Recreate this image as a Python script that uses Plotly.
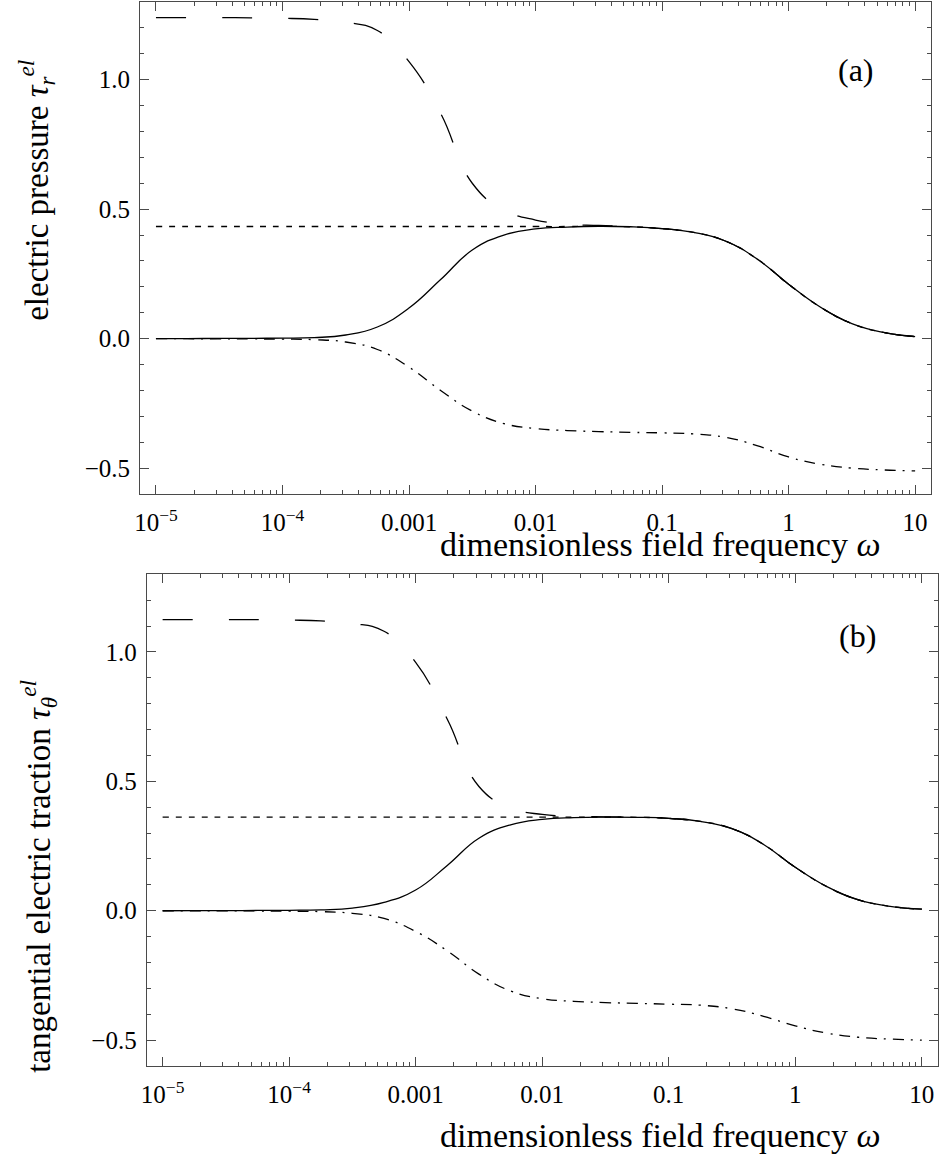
import plotly.graph_objects as go

# dimensionless field frequency, quarter-decade samples (shared by both panels)
omega = [1e-5, 1.778e-5, 3.162e-5, 5.623e-5,
         1e-4, 1.778e-4, 3.162e-4, 5.623e-4,
         1e-3, 1.778e-3, 3.162e-3, 5.623e-3,
         1e-2, 1.778e-2, 3.162e-2, 5.623e-2,
         0.1, 0.1778, 0.3162, 0.5623,
         1.0, 1.778, 3.162, 5.623, 10.0]

# (a) electric pressure
pr_total = [0.0, 0.0003, 0.0007, 0.0012,
            0.002, 0.004, 0.014, 0.045,
            0.118, 0.228, 0.342, 0.4,
            0.424, 0.431, 0.434, 0.432,
            0.425, 0.41, 0.377, 0.308,
            0.21, 0.122, 0.058, 0.024, 0.008]
pr_long = [1.24, 1.24, 1.24, 1.239,
           1.237, 1.233, 1.222, 1.19,
           1.07, 0.87, 0.6, 0.497,
           0.458, 0.442, 0.437, 0.432,
           0.425, 0.41, 0.377, 0.308,
           0.21, 0.122, 0.058, 0.024, 0.008]
pr_short = [0.433, 0.433, 0.433, 0.433,
            0.433, 0.433, 0.433, 0.433,
            0.433, 0.433, 0.433, 0.433,
            0.433, 0.433, 0.434, 0.432,
            0.425, 0.41, 0.377, 0.308,
            0.21, 0.122, 0.058, 0.024, 0.008]
pr_dashdot = [0.0, -0.0003, -0.0007, -0.0012,
              -0.002, -0.004, -0.013, -0.042,
              -0.11, -0.2, -0.28, -0.328,
              -0.347, -0.355, -0.359, -0.362,
              -0.364, -0.368, -0.381, -0.413,
              -0.457, -0.485, -0.5, -0.507, -0.511]

# (b) tangential electric traction
tg_total = [0.0, 0.0002, 0.0005, 0.001,
            0.0017, 0.0035, 0.01, 0.032,
            0.08, 0.175, 0.28, 0.332,
            0.353, 0.36, 0.362, 0.361,
            0.357, 0.345, 0.317, 0.256,
            0.168, 0.093, 0.042, 0.017, 0.006]
tg_long = [1.125, 1.125, 1.125, 1.125,
           1.123, 1.12, 1.11, 1.08,
           0.96, 0.74, 0.48, 0.398,
           0.372, 0.365, 0.363, 0.361,
           0.357, 0.345, 0.317, 0.256,
           0.168, 0.093, 0.042, 0.017, 0.006]
tg_short = [0.362, 0.362, 0.362, 0.362,
            0.362, 0.362, 0.362, 0.362,
            0.362, 0.362, 0.362, 0.362,
            0.362, 0.362, 0.362, 0.361,
            0.357, 0.345, 0.317, 0.256,
            0.168, 0.093, 0.042, 0.017, 0.006]
tg_dashdot = [0.0, -0.0002, -0.0005, -0.001,
              -0.0017, -0.0035, -0.01, -0.03,
              -0.08, -0.155, -0.245, -0.31,
              -0.34, -0.35, -0.355, -0.358,
              -0.361, -0.365, -0.379, -0.408,
              -0.445, -0.473, -0.489, -0.496, -0.5]

x_tickvals = [1e-5, 1e-4, 1e-3, 1e-2, 1e-1, 1, 10]
x_ticktext = ["10<sup>−5</sup>", "10<sup>−4</sup>", "0.001", "0.01", "0.1", "1", "10"]
y_tickvals = [-0.5, 0.0, 0.5, 1.0]
y_ticktext = ["−0.5", "0.0", "0.5", "1.0"]

W, H = 940, 1158
FONT = "Liberation Serif"
FRAME = "#4a4a4a"

x_minor = [m * 10.0 ** e for e in range(-5, 2) for m in range(2, 10) if m * 10.0 ** e < 13]

styles = {
    "long": dict(dash="30px,36px"),
    "short": dict(dash="6px,7px"),
    "solid": dict(dash="solid"),
    "dashdot": dict(dash="11px,7px,2px,7px"),
}

fig = go.Figure()

panels = [
    ("x", "y", [("long", pr_long), ("short", pr_short), ("solid", pr_total), ("dashdot", pr_dashdot)]),
    ("x2", "y2", [("long", tg_long), ("short", tg_short), ("solid", tg_total), ("dashdot", tg_dashdot)]),
]
for xa, ya, curves in panels:
    for kind, vals in curves:
        fig.add_trace(go.Scatter(
            x=omega, y=vals, xaxis=xa, yaxis=ya, mode="lines",
            line=dict(color="black", width=1.3, shape="spline", smoothing=1.3, **styles[kind]),
            showlegend=False, hoverinfo="skip"))

def xaxis(domain, anchor):
    return dict(domain=domain, anchor=anchor, type="log", range=[-5.125, 1.126],
                tickmode="array", tickvals=x_tickvals, ticktext=x_ticktext,
                ticks="inside", ticklen=9, tickwidth=1, tickcolor=FRAME,
                showline=True, linecolor=FRAME, linewidth=1.2, mirror="ticks",
                showgrid=False, zeroline=False, ticklabelstandoff=6,
                tickfont=dict(family=FONT, size=25, color="black"),
                minor=dict(tickmode="array", tickvals=x_minor, ticks="inside",
                           ticklen=4, tickwidth=1, tickcolor=FRAME, showgrid=False))

def yaxis(domain, anchor):
    return dict(domain=domain, anchor=anchor, range=[-0.6, 1.3],
                tickmode="array", tickvals=y_tickvals, ticktext=y_ticktext,
                ticks="inside", ticklen=9, tickwidth=1, tickcolor=FRAME,
                showline=True, linecolor=FRAME, linewidth=1.2, mirror="ticks",
                showgrid=False, zeroline=False, ticklabelstandoff=4,
                tickfont=dict(family=FONT, size=25, color="black"),
                minor=dict(dtick=0.1, tick0=0, ticks="inside", ticklen=4,
                           tickwidth=1, tickcolor=FRAME, showgrid=False))

fig.update_layout(
    width=W, height=H,
    margin=dict(l=0, r=0, t=0, b=0),
    paper_bgcolor="white", plot_bgcolor="white",
    xaxis=xaxis([135 / W, 931 / W], "y"),
    yaxis=yaxis([1 - 494 / H, 1 - 2 / H], "x"),
    xaxis2=xaxis([141.7 / W, 937.7 / W], "y2"),
    yaxis2=yaxis([1 - 1066 / H, 1 - 574.3 / H], "x2"),
)

def paper_text(text, x, y, size, angle=0):
    fig.add_annotation(text=text, x=x / W, y=1 - y / H, xref="paper", yref="paper",
                       xanchor="center", yanchor="middle", showarrow=False, textangle=angle,
                       font=dict(family=FONT, size=size, color="black"))

paper_text("dimensionless field frequency <i>ω</i>", 658, 544, 34)
paper_text("dimensionless field frequency <i>ω</i>", 658, 1135, 34)
paper_text("electric pressure <i>τ</i><sub><i>r</i></sub><sup><i>el</i></sup>", 30, 190, 33, -90)
paper_text("tangential electric traction <i>τ</i><sub><i>θ</i></sub><sup><i>el</i></sup>", 32, 876, 33, -90)
paper_text("(a)", 855, 70, 32)
paper_text("(b)", 857, 636, 32)

fig.write_html("out.html")
